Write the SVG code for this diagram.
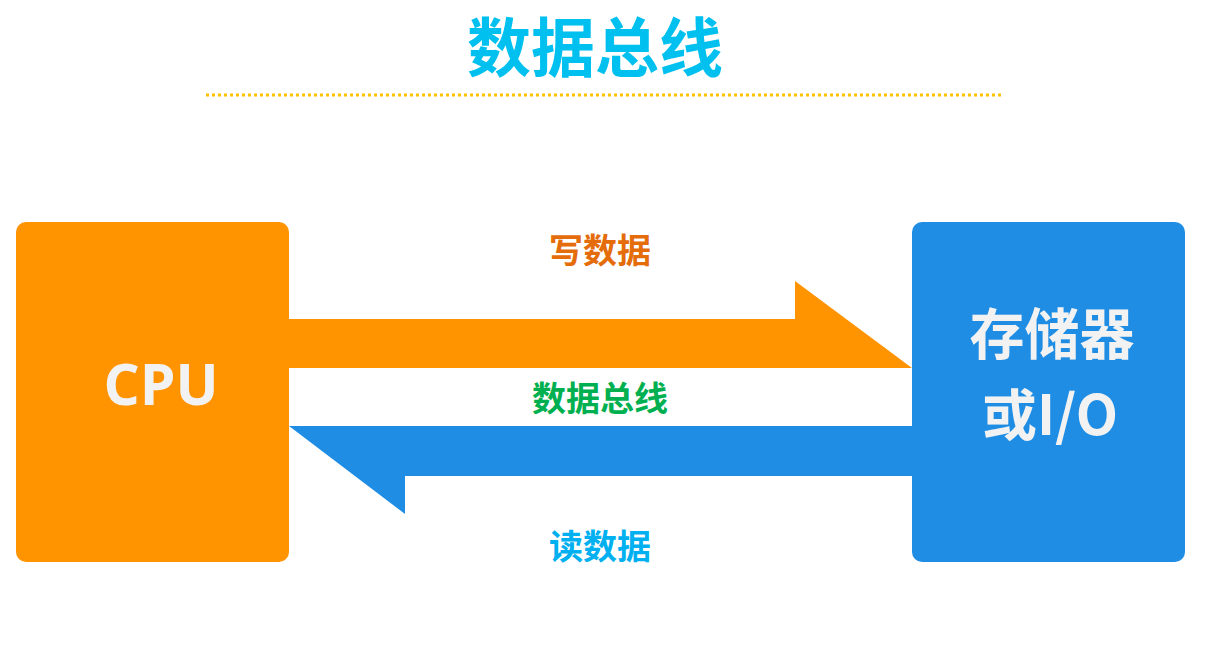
<svg xmlns="http://www.w3.org/2000/svg" width="1220" height="657" viewBox="0 0 1220 657">
<style>
.cjk{font-family:"Noto Sans CJK SC","Open Sans",sans-serif;font-weight:bold;text-anchor:middle}
.lat{font-family:"Open Sans","Noto Sans CJK SC",sans-serif;font-weight:bold;text-anchor:middle}
</style>
<rect width="1220" height="657" fill="#ffffff"/>
<g id="title">
<text x="595" y="71" class="cjk" font-size="64" fill="#00C0EF">数据总线</text>
<line x1="206" y1="95" x2="1004" y2="95" stroke="#FFC000" stroke-width="3" stroke-dasharray="3,3"/>
</g>
<g id="connectors">
<polygon points="289,319 795,319 795,281 912,368 289,368" fill="#FF9300"/>
<polygon points="912,426 289,426 405,514 405,476 912,476" fill="#1F8DE4"/>
<text x="600" y="263" class="cjk" font-size="34" fill="#E46C0A">写数据</text>
<text x="600" y="411" class="cjk" font-size="34" fill="#00B050">数据总线</text>
<text x="600" y="559" class="cjk" font-size="34" fill="#00B0F0">读数据</text>
</g>
<g id="cpu">
<rect x="16" y="222" width="273" height="340" rx="10" fill="#FF9300"/>
<text x="161" y="405" class="lat" font-size="57" fill="#F2F2F2">CPU</text>
</g>
<g id="memory">
<rect x="912" y="222" width="273" height="340" rx="10" fill="#1F8DE4"/>
<text x="1052" y="354" class="cjk" font-size="55" fill="#F2F2F2">存储器</text>
<text x="1050" y="435" class="cjk" font-size="55" fill="#F2F2F2">或I/O</text>
</g>
</svg>
